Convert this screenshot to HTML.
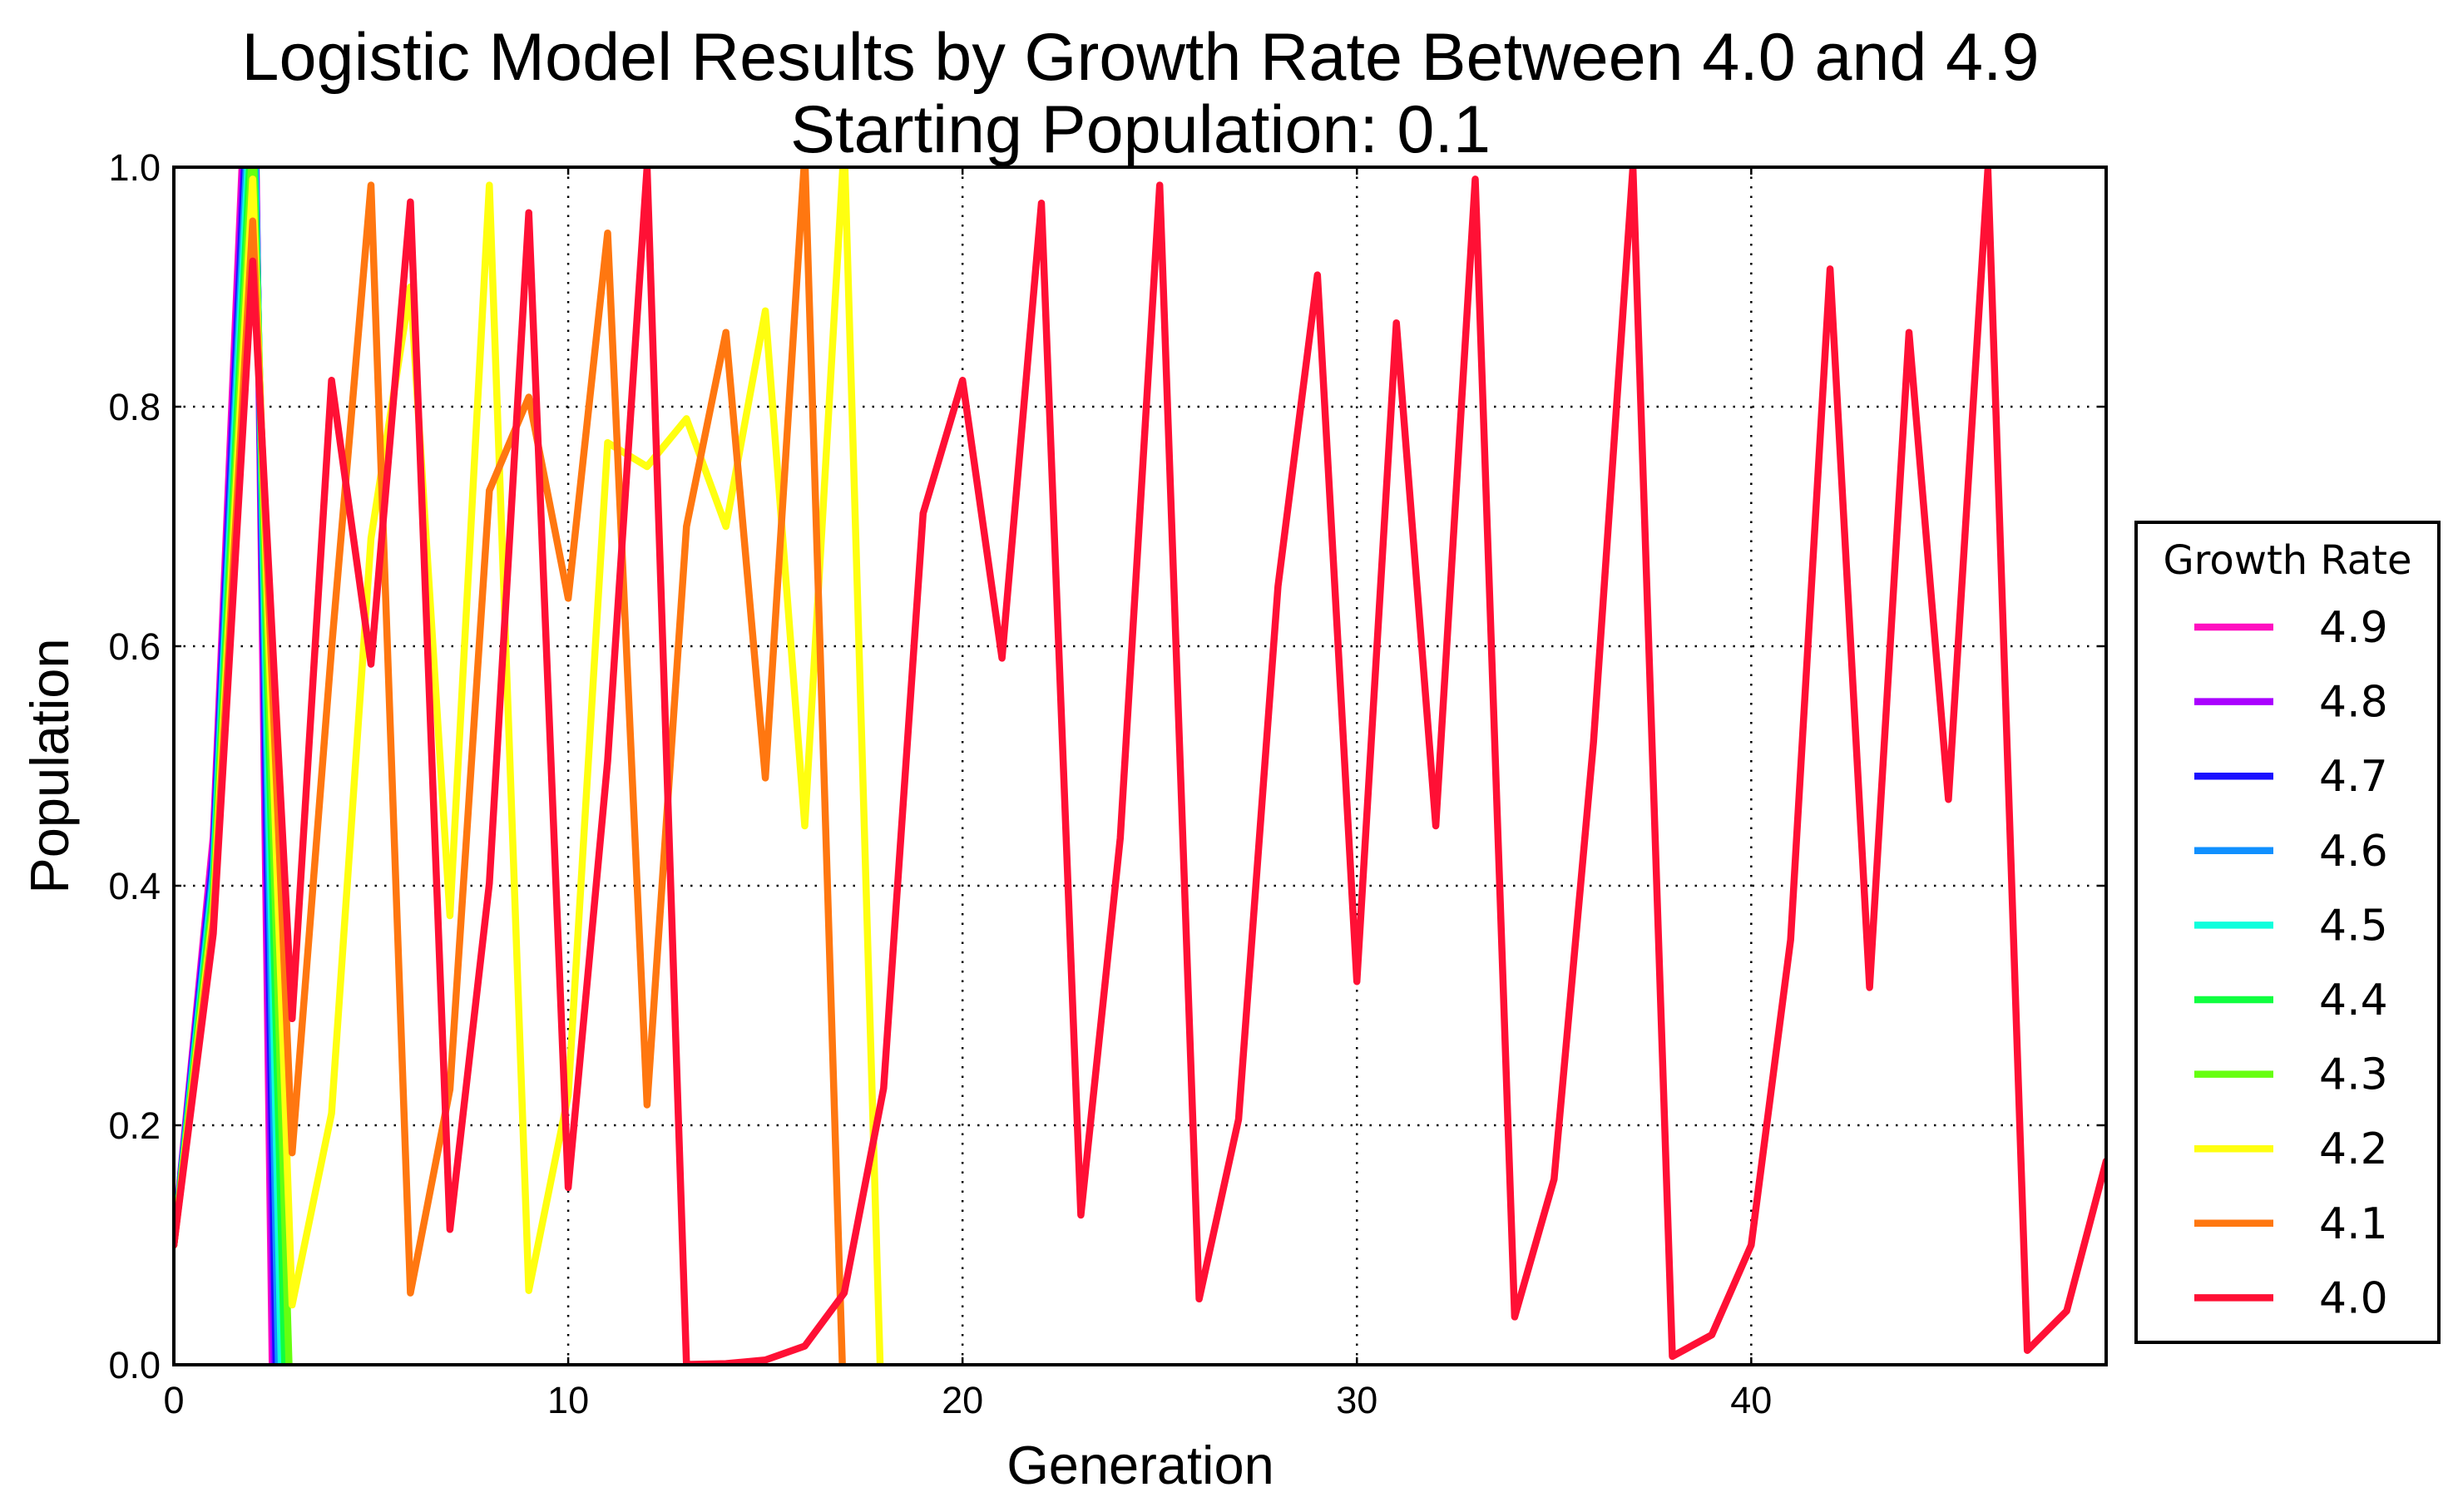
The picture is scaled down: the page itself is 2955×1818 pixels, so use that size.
<!DOCTYPE html>
<html><head><meta charset="utf-8"><style>
html,body{margin:0;padding:0;background:#fff;overflow:hidden;width:2955px;height:1818px;}
svg{display:block;}
</style></head><body>
<svg id="chart" width="2955" height="1818" viewBox="0 0 2955 1818" xmlns="http://www.w3.org/2000/svg">
<defs><clipPath id="plotclip"><rect x="209" y="201" width="2323" height="1440"/></clipPath></defs>
<text x="1371" y="96" text-anchor="middle" font-family="Liberation Sans, sans-serif" font-size="81">Logistic Model Results by Growth Rate Between 4.0 and 4.9</text>
<text x="1371" y="183" text-anchor="middle" font-family="Liberation Sans, sans-serif" font-size="81">Starting Population: 0.1</text>
<g id="grid"></g>
<g id="series" clip-path="url(#plotclip)"></g>
<rect x="209" y="201" width="2323" height="1440" fill="none" stroke="#000" stroke-width="4"/>
<g id="ticks"></g>
<text x="1371" y="1784" text-anchor="middle" font-family="Liberation Sans, sans-serif" font-size="65">Generation</text>
<text transform="translate(82,921) rotate(-90)" text-anchor="middle" font-family="Liberation Sans, sans-serif" font-size="65">Population</text>
<g id="legend">
<rect x="2568" y="628" width="364" height="986" fill="#fff" stroke="#000" stroke-width="4"/>
<text x="2750" y="690" text-anchor="middle" font-family="DejaVu Sans, sans-serif" font-size="48">Growth Rate</text>
</g>
</svg>
<script>
const rates = ["4.9","4.8","4.7","4.6","4.5","4.4","4.3","4.2","4.1","4.0"];
const colors = ["#ff10c0","#aa00ff","#1a10ff","#1090ff","#10ffdd","#10ff40","#66ff10","#ffff10","#ff7710","#ff1035"];
const s49 = [0.1,0.441,1.208,-1.2317,-13.4];
const s48 = [0.1,0.432,1.1778,-1.005,-9.7];
const s47 = [0.1,0.423,1.1471,-0.7932,-6.7];
const s46 = [0.1,0.414,1.1160,-0.5960,-4.3];
const s45 = [0.1,0.405,1.0844,-0.4107,-2.6];
const s44 = [0.1,0.396,1.0524,-0.2426,-1.33];
const s43 = [0.1,0.387,1.0201,-0.0882,-0.413];
const s42 = [0.1,0.378,0.99,0.05,0.21,0.69,0.90,0.375,0.985,0.062,0.225,0.77,0.75,0.79,0.70,0.88,0.45,1.02,-0.1,-0.46];
const s41 = [0.1,0.369,0.955,0.177,0.598,0.985,0.06,0.23,0.73,0.808,0.64,0.945,0.217,0.70,0.862,0.49,1.01,-0.05,-0.3,-1.6];
const s40 = [0.1,0.36,0.9216,0.289,0.822,0.585,0.971,0.113,0.402,0.962,0.148,0.504,1.0,0.0003,0.001,0.004,0.0156,0.06,0.231,0.711,0.822,0.59,0.97,0.125,0.44,0.985,0.055,0.205,0.65,0.91,0.32,0.87,0.45,0.99,0.04,0.155,0.52,1.0,0.007,0.025,0.1,0.355,0.915,0.315,0.862,0.472,0.998,0.012,0.045,0.17];
const seriesData = [s49,s48,s47,s46,s45,s44,s43,s42,s41,s40];
const xTicks = [0,10,20,30,40];
const yTicks = [0.0,0.2,0.4,0.6,0.8,1.0];

const L=209,R=2532,T=201,B=1641;
const X = g => L + g*(R-L)/49;
const Y = v => B - v*(B-T);
const NS="http://www.w3.org/2000/svg";
function mk(tag, attrs, parent){const e=document.createElementNS(NS,tag);for(const k in attrs)e.setAttribute(k,attrs[k]);parent.appendChild(e);return e;}
const grid=document.getElementById('grid'), ticks=document.getElementById('ticks');
xTicks.forEach(t=>{
  const x=X(t);
  if(t>0){const gl=mk('line',{x1:x,y1:T,x2:x,y2:B,stroke:'#000','stroke-width':2.5,'stroke-dasharray':'2.5 9'},grid);
  
  }
  const tk=mk('line',{x1:x,y1:B,x2:x,y2:B-9,stroke:'#000','stroke-width':2.5},ticks);
  
  
  const tt=mk('line',{x1:x,y1:T,x2:x,y2:T+9,stroke:'#000','stroke-width':2.5},ticks);
  
  
  const lb=mk('text',{x:x,y:B+58,'text-anchor':'middle','font-family':'Liberation Sans, sans-serif','font-size':45},ticks);
  lb.textContent=String(t);
  
  
});
yTicks.forEach(t=>{
  const y=Y(t);
  if(t>0&&t<1){const gl=mk('line',{x1:L,y1:y,x2:R,y2:y,stroke:'#000','stroke-width':2.5,'stroke-dasharray':'2.5 9'},grid);
  
  }
  const tk=mk('line',{x1:L,y1:y,x2:L+9,y2:y,stroke:'#000','stroke-width':2.5},ticks);
  
  
  const tr=mk('line',{x1:R,y1:y,x2:R-9,y2:y,stroke:'#000','stroke-width':2.5},ticks);
  
  
  const lb=mk('text',{x:L-16,y:y+16,'text-anchor':'end','font-family':'Liberation Sans, sans-serif','font-size':45},ticks);
  lb.textContent=t.toFixed(1);
  
  
});
const sg=document.getElementById('series'), lg=document.getElementById('legend');
seriesData.forEach((d,i)=>{
  const pts=d.map((v,g)=>X(g).toFixed(1)+','+Y(v).toFixed(1)).join(' ');
  const pl=mk('polyline',{points:pts,fill:'none',stroke:colors[i],'stroke-width':8.5,'stroke-linejoin':'round','stroke-linecap':'round'},sg);
  
  
  const ly=754+i*89.6;
  const ll=mk('line',{x1:2638,y1:ly,x2:2733,y2:ly,stroke:colors[i],'stroke-width':8.5},lg);
  
  
  const lt=mk('text',{x:2788,y:ly+18,'font-family':'DejaVu Sans, sans-serif','font-size':52},lg);
  lt.textContent=rates[i];
  
  
});
</script>
</body></html>
